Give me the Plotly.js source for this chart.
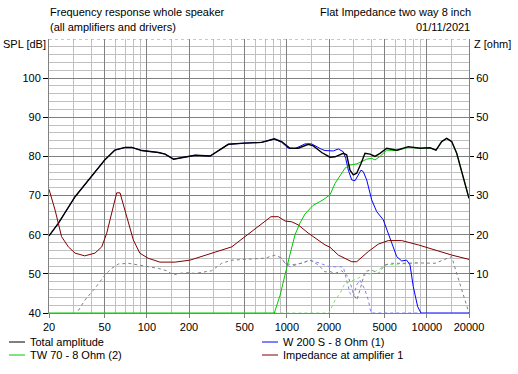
<!DOCTYPE html>
<html><head><meta charset="utf-8">
<script src="https://cdn.plot.ly/plotly-3.0.1.min.js"></script>
<style>html,body{margin:0;padding:0;background:#fff;}#chart{width:518px;height:374px;}</style>
</head><body><div id="chart"></div>
<script>
// ---- data ----
const xTickVals = [20,50,100,200,500,1000,2000,5000,10000,20000];
const xTickText = ["20","50","100","200","500","1000","2000","5000","10000","20000"];
const xMinorVals = [30,40,60,70,80,90,150,300,400,600,700,800,900,1500,3000,4000,6000,7000,8000,9000,15000];
const splTicks = [40,50,60,70,80,90,100];
const zTicks = [10,20,30,40,50,60];

const totalFreq = [20,23.3,30.7,38.2,50,59,70,78,92,121,135,155,168,198,221,283,324,382,500,660,814,918,1053,1207,1423,1545,1774,2033,2208,2530,2675,2825,2984,3155,3386,3615,3925,4264,4628,5166,6092,7370,8934,10530,11626,12766,13858,15048,16340,17740,18728,20000];
const totalSpl = [59.7,62.9,69.7,74,79.1,81.6,82.3,82.3,81.5,81,80.6,79.3,79.5,80,80.3,80.1,81.5,83.1,83.4,83.6,84.5,83.8,82.1,82.1,83.1,82.7,81,79.8,79.9,80.8,80.4,76.5,75.3,75.7,78.2,80.8,80.6,80,80.8,82.1,81.6,82.5,82.1,82.2,81.6,83.8,84.6,83.8,80.8,76.1,72.7,69.3];

const wooferFreq = [20,23.3,30.7,38.2,50,59,70,78,92,121,135,155,168,198,221,283,324,382,500,660,814,918,1024,1144,1348,1504,1774,1872,2146,2330,2530,2632,2748,2906,3068,3240,3386,3516,3718,4036,4382,4886,5304,5758,6092,6612,7178,7580,8000,8600,9082,20000];
const wooferSpl = [59.7,62.9,69.7,74,79.1,81.6,82.3,82.3,81.5,81,80.6,79.3,79.5,80,80.3,80.1,81.5,83.1,83.4,83.6,84.4,83.6,82.1,82,83.2,83.2,81.8,81.5,81.4,81.9,81.2,79.5,76.5,74,73.8,75.3,76.5,76.1,74,68.9,65.9,63.8,60.4,56.9,54.4,53.3,53.5,52.3,46.7,41.6,40,40];

const tweeterFreq = [20,814,894,970,1053,1144,1242,1348,1538,1812,2033,2208,2396,2602,2825,3155,3425,3718,4036,4264,4628,5166,6092,7370,8934,10530,11626,12766,13858,15048,16340,17740,18728,20000];
const tweeterSpl = [40,40,44.5,50,55,60,63,65.3,67.5,68.9,70.2,73.1,75,77,77.8,78.1,78.7,79.3,79.5,79.1,80,81.6,81.5,82.3,82.1,82.2,81.6,83.8,84.6,83.8,80.8,76.1,72.7,69.3];

const impFreq = [20,22.1,24.6,27.5,30.7,36,42.6,47.6,51.7,56.1,60.9,64.3,69.8,80,89,102,124,159,203,246,324,404,502,661,770,869,970,1083,1207,1423,1677,1872,2033,2330,2906,3155,3818,4500,5304,6612,8690,11434,15048,20000];
const impOhm = [31.6,26.3,19.5,16.9,15.3,14.6,15.3,16.9,20.4,25.5,30.7,30.7,26.3,18.7,15.3,14,13,13,13.5,14.4,15.7,16.9,19.5,22.9,24.6,24.6,23.5,23.3,22.5,20.4,18.7,17.4,16.8,14.8,13.1,13.1,15.7,17.6,18.5,18.5,17.4,16.1,14.8,13.7];

const grayFreq = [32.4,36.1,42.6,50.2,56.1,62.5,73.7,86.9,102.4,120.7,138.6,154.5,167.7,197.7,220.8,290.6,342.4,404,561,698,823,918,970,1083,1277,1464,1677,1872,2033,2208,2464,2748,2984,3155,3330,3615,4036,4500,5024,5610,6982,8690,11434,13480,15048,16340,17740,19258,20000];
const graySpl = [40.6,43.3,46.3,49.7,51.4,52.5,52.7,52.3,51.8,51.4,50.8,49.7,50.1,50.3,50.1,50.8,52.7,53.5,53.8,54,54.8,54,52.7,52.3,52.7,53.5,52.3,50.5,50.6,50.1,50.8,49.3,45,43.3,45.9,50.6,51,50.1,52.3,52.7,52.7,52.8,52.7,53.7,54.4,50.1,45.9,41.6,40];

const wooferAloneFreq = [894,970,1053,1464,1725,2033,2530,2675,2825,2984,3155,3330,3615,3818,3990,9000];
const wooferAloneSpl = [54.4,52.7,51.8,53.5,52.7,51.8,51.8,48.4,45,44.2,47.2,48.4,45.9,43.3,40,40];

const tweeterAloneFreq = [814,2000,2208,2396,2602,2825,3240,3615,4036,4500,4886,5166,7580,8600];
const tweeterAloneSpl = [40,40,43.3,45,47.6,48,48.9,49.7,50.1,51,51.8,52.3,52.7,52.8];

// legend entries (reference order: two columns, two rows)
const legendNames  = ['Total amplitude', 'W 200 S - 8 Ohm (1)', 'TW 70 - 8 Ohm (2)', 'Impedance at amplifier 1'];
const legendColors = ['#000000', '#0000ff', '#00c800', '#800000'];

const FONT = "Liberation Sans, Arial, sans-serif";
const W = 518, H = 374, ML = 49, MR = 49, MT = 39, MB = 61;
const PW = W - ML - MR, PH = H - MT - MB;
const px2paperX = p => (p - ML) / PW;
const px2paperY = p => (H - MB - p) / PH;

const traces = [
  {x: wooferAloneFreq, y: wooferAloneSpl, mode:'lines', line:{color:'#8080ff', width:1, dash:'3px,3px'}, showlegend:false},
  {x: tweeterAloneFreq, y: tweeterAloneSpl, mode:'lines', line:{color:'#80e080', width:1, dash:'3px,3px'}, showlegend:false},
  {x: grayFreq, y: graySpl, mode:'lines', line:{color:'#808080', width:1, dash:'3px,3px'}, showlegend:false},
  {name:legendNames[1], x: wooferFreq, y: wooferSpl, mode:'lines', line:{color:legendColors[1], width:1}, showlegend:false},
  {name:legendNames[2], x: tweeterFreq, y: tweeterSpl, mode:'lines', line:{color:legendColors[2], width:1}, showlegend:false},
  {name:legendNames[0], x: totalFreq, y: totalSpl, mode:'lines', line:{color:legendColors[0], width:1.4}, showlegend:false},
  {name:legendNames[3], x: impFreq, y: impOhm, yaxis:'y2', mode:'lines', line:{color:legendColors[3], width:1}, showlegend:false}
];

// legend drawn as text + short line symbols, two columns
const legendShapes = [], legendAnns = [];
legendNames.forEach((name, i) => {
  const col = i % 2, row = Math.floor(i / 2);
  const sx = col === 0 ? 9 : 262;
  const cy = 342 + row * 13;
  legendShapes.push({type:'line', xref:'paper', yref:'paper', x0:px2paperX(sx), x1:px2paperX(sx + 16),
    y0:px2paperY(cy), y1:px2paperY(cy), line:{color:legendColors[i], width:1}});
  legendAnns.push({text:name, xref:'paper', yref:'paper', x:px2paperX(sx + 20), y:px2paperY(cy),
    xanchor:'left', yanchor:'middle', showarrow:false, borderpad:0});
});

const layout = {
  width:W, height:H, autosize:false,
  margin:{l:ML, r:MR, t:MT, b:MB, pad:0},
  paper_bgcolor:'#ffffff', plot_bgcolor:'#ffffff',
  font:{family:FONT, size:11, color:'#000'},
  showlegend:false,
  xaxis:{type:'log', range:[Math.log10(20), Math.log10(20000)], tickmode:'array', tickvals:xTickVals, ticktext:xTickText,
    showgrid:true, gridcolor:'#808080', gridwidth:1, ticks:'outside', ticklen:4, tickcolor:'#808080',
    showline:true, linecolor:'#808080', linewidth:1, zeroline:false,
    minor:{tickmode:'array', tickvals:xMinorVals, showgrid:true, gridcolor:'#c0c0c0', gridwidth:1, ticks:''},
    tickfont:{family:FONT, size:11, color:'#000'}},
  yaxis:{range:[40,110], tickmode:'array', tickvals:splTicks, showgrid:true, gridcolor:'#808080', gridwidth:1,
    ticks:'outside', ticklen:5, tickcolor:'#000', showline:true, linecolor:'#808080', linewidth:1, zeroline:false,
    minor:{dtick:2, tick0:40, showgrid:true, gridcolor:'#c0c0c0', gridwidth:1, ticks:''},
    tickfont:{family:FONT, size:11, color:'#000'}},
  yaxis2:{range:[0,70], overlaying:'y', side:'right', tickmode:'array', tickvals:zTicks, showgrid:false, zeroline:false,
    ticks:'outside', ticklen:4, tickcolor:'#000', showline:true, linecolor:'#808080', linewidth:1,
    tickfont:{family:FONT, size:11, color:'#000'}},
  shapes:[{type:'line', xref:'paper', x0:0, x1:1, yref:'y', y0:110, y1:110, line:{color:'#c08080', width:1, dash:'3px,3px'}}].concat(legendShapes),
  annotations:[
    {text:'Frequency response whole speaker', xref:'paper', yref:'paper', x:px2paperX(49), y:px2paperY(12), xanchor:'left', yanchor:'middle', showarrow:false, borderpad:0},
    {text:'(all amplifiers and drivers)', xref:'paper', yref:'paper', x:px2paperX(49), y:px2paperY(27), xanchor:'left', yanchor:'middle', showarrow:false, borderpad:0},
    {text:'Flat Impedance two way 8 inch', xref:'paper', yref:'paper', x:px2paperX(472), y:px2paperY(12), xanchor:'right', yanchor:'middle', showarrow:false, borderpad:0},
    {text:'01/11/2021', xref:'paper', yref:'paper', x:px2paperX(471), y:px2paperY(27), xanchor:'right', yanchor:'middle', showarrow:false, borderpad:0},
    {text:'SPL [dB]', xref:'paper', yref:'paper', x:px2paperX(2), y:px2paperY(44), xanchor:'left', yanchor:'middle', showarrow:false, borderpad:0},
    {text:'Z [ohm]', xref:'paper', yref:'paper', x:px2paperX(473), y:px2paperY(44), xanchor:'left', yanchor:'middle', showarrow:false, borderpad:0}
  ].concat(legendAnns)
};

Plotly.newPlot('chart', traces, layout, {displayModeBar:false, staticPlot:true});
</script></body></html>
